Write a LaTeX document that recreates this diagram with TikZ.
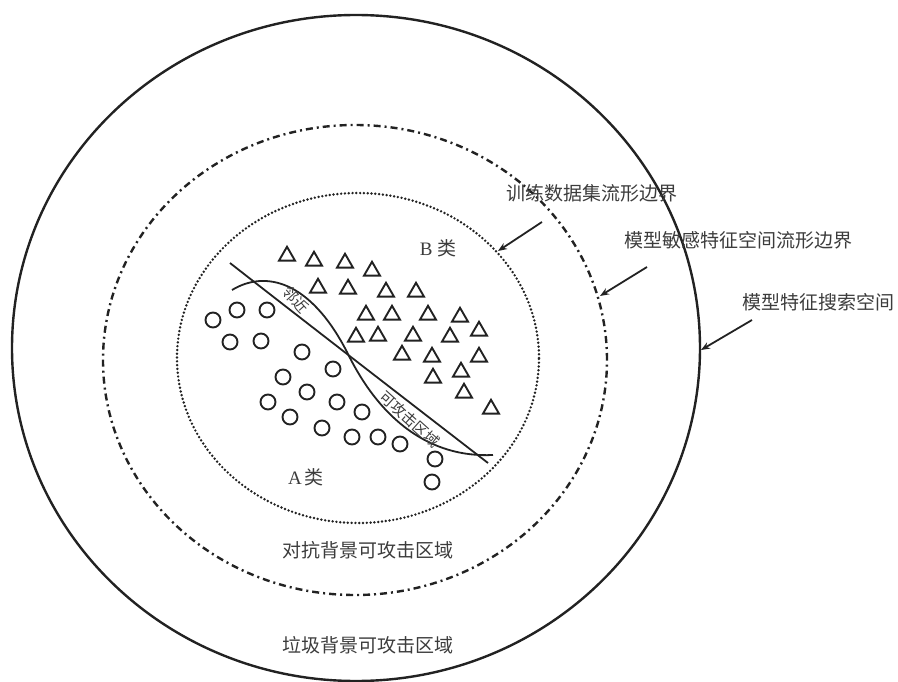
\documentclass[tikz,border=0pt]{standalone}
\usepackage{fontspec}
\setmainfont{Liberation Serif}
\newfontfamily\cjk{Noto Sans CJK SC}
\usetikzlibrary{shapes.geometric,arrows.meta}
\definecolor{ink}{HTML}{222222}
\definecolor{txt}{HTML}{3C3C3C}
\begin{document}
\begin{tikzpicture}[x=1pt,y=-1pt,
  lbl/.style={font=\cjk\fontsize{19}{19}\selectfont, text=txt, inner sep=0},
  curvelbl/.style={font=\cjk\fontsize{15}{15}\selectfont, text=txt, inner sep=0},
  classlbl/.style={font=\fontsize{19}{19}\selectfont, text=txt, inner sep=0},
  bound/.style={ellipse, draw=ink, inner sep=0, outer sep=0},
  arr/.style={draw=ink, line width=1.8pt, -{Stealth[length=9pt,width=7pt]}},
  sep/.style={draw=ink, line width=1.8pt},
  tri/.style={regular polygon, regular polygon sides=3, draw=ink, line width=1.9pt, minimum size=18.5pt, inner sep=0, outer sep=0},
  dot/.style={circle, draw=ink, line width=1.9pt, minimum size=15pt, inner sep=0, outer sep=0}]
\useasboundingbox (0,0) rectangle (898,682);

% boundaries
\node[bound, line width=2.4pt, minimum width=688pt, minimum height=666pt] (space) at (356,348) {};
\node[bound, line width=2.4pt, dash pattern=on 7pt off 4pt on 2pt off 4pt, minimum width=504pt, minimum height=470pt] (sens) at (355,360) {};
\node[bound, line width=2.7pt, line cap=round, dash pattern=on 0pt off 3.8pt, minimum width=362pt, minimum height=330pt] (train) at (358,358) {};

% labels
\node[lbl] (ltrain) at (592,193) {训练数据集流形边界};
\node[lbl] (lsens) at (738,240) {模型敏感特征空间流形边界};
\node[lbl] (lspace) at (818,302) {模型特征搜索空间};
\node[lbl] (ladv) at (368,550) {对抗背景可攻击区域};
\node[lbl] (lgar) at (368,645) {垃圾背景可攻击区域};
\node[classlbl] (lb) at (438,248) {B {\cjk 类}};
\node[classlbl] (la) at (306,477) {A\,{\cjk 类}};

% arrows
\coordinate (a1s) at (542,222); \coordinate (a1e) at (498,251);
\coordinate (a2s) at (647,267); \coordinate (a2e) at (600,296);
\coordinate (a3s) at (752,320); \coordinate (a3e) at (701,350);
\draw[arr] (a1s) -- (a1e);
\draw[arr] (a2s) -- (a2e);
\draw[arr] (a3s) -- (a3e);

% separating curves
\coordinate (c1s) at (230,263); \coordinate (c1e) at (488,463);
\coordinate (c2s) at (232,290); \coordinate (cx) at (347,352); \coordinate (c2e) at (493,455);
\draw[sep] (c1s) .. controls (290,310) and (400,395) .. (c1e);
\draw[sep] (c2s) .. controls (265,270) and (310,280) .. (cx) .. controls (380,420) and (430,458) .. (c2e);
\node[curvelbl, rotate=-48] (lnear) at (296,300) {邻近};
\node[curvelbl, rotate=-42] (latk) at (410,419) {可攻击区域};

% class B triangles
\foreach \x/\y [count=\i] in {287/256,314/261,345/263,372/271,318/288,348/289,386/292,416/292,
  366/315,392/315,428/315,460/317,479/331,356/337,378/336,413/336,450/337,
  402/355,432/357,479/357,461/372,433/378,464/393,491/409}
  \node[tri] (t\i) at (\x,\y) {};

% class A circles
\foreach \x/\y [count=\i] in {213/320,237/310,267/310,230/342,261/341,302/352,333/369,283/377,
  307/392,268/402,337/402,362/412,290/417,322/428,352/437,378/437,400/444,435/459,432/482}
  \node[dot] (o\i) at (\x,\y) {};
\end{tikzpicture}
\end{document}
